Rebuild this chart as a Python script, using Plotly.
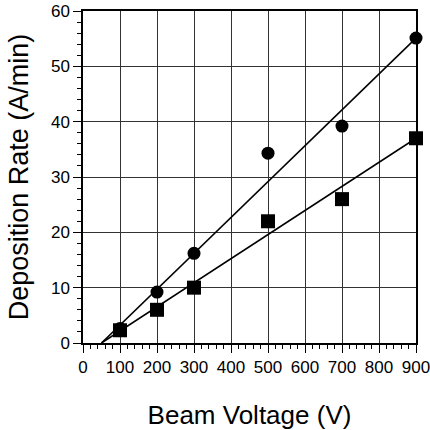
import plotly.graph_objects as go

voltage = [100, 200, 300, 500, 700, 900]
rate_circle = [2.6, 9.2, 16.2, 34.3, 39.2, 55.1]
rate_square = [2.3, 6.0, 10.0, 22.0, 26.0, 37.0]

fit_x = [50, 900]
fit_circle = [0, 55.1]
fit_square = [0, 37.0]

x_ticks = [0, 100, 200, 300, 400, 500, 600, 700, 800, 900]
y_ticks = [0, 10, 20, 30, 40, 50, 60]

font = "Liberation Sans, Arial, sans-serif"

fig = go.Figure()
fig.add_trace(go.Scatter(x=fit_x, y=fit_circle, mode="lines",
                         line=dict(color="black", width=1.6), showlegend=False))
fig.add_trace(go.Scatter(x=fit_x, y=fit_square, mode="lines",
                         line=dict(color="black", width=1.6), showlegend=False))
fig.add_trace(go.Scatter(x=voltage, y=rate_circle, mode="markers",
                         marker=dict(symbol="circle", size=13, color="black"),
                         showlegend=False, cliponaxis=False))
fig.add_trace(go.Scatter(x=voltage, y=rate_square, mode="markers",
                         marker=dict(symbol="square", size=14, color="black"),
                         showlegend=False, cliponaxis=False))

fig.update_layout(
    width=430, height=430,
    margin=dict(l=83, r=14, t=11, b=87),
    paper_bgcolor="white", plot_bgcolor="white",
    font=dict(family=font, color="black"),
)
fig.update_xaxes(
    range=[0, 900], tickvals=x_ticks, ticktext=[str(v) for v in x_ticks],
    showgrid=True, gridcolor="#333", gridwidth=1,
    showline=True, linecolor="black", linewidth=1.5, mirror=True,
    ticks="outside", ticklen=8, tickcolor="black", tickwidth=1,
    minor=dict(dtick=20, ticks="outside", ticklen=4, tickcolor="black", showgrid=False),
    tickfont=dict(size=17, family=font), ticklabeloverflow="allow",
    title=dict(text="Beam Voltage (V)", font=dict(size=26, family=font), standoff=30),
    zeroline=False, automargin=False,
)
fig.update_yaxes(
    range=[0, 60], tickvals=y_ticks, ticktext=[str(v) for v in y_ticks],
    showgrid=True, gridcolor="#333", gridwidth=1,
    showline=True, linecolor="black", linewidth=1.5, mirror=True,
    ticks="outside", ticklen=8, tickcolor="black", tickwidth=1,
    minor=dict(dtick=2, ticks="outside", ticklen=4, tickcolor="black", showgrid=False),
    tickfont=dict(size=17, family=font), ticklabeloverflow="allow",
    title=dict(text="Deposition Rate (A/min)", font=dict(size=27, family=font), standoff=14),
    zeroline=False, automargin=False,
)

fig.write_html("out.html", config={"displayModeBar": False},
               post_script="document.body.style.margin='0';")
